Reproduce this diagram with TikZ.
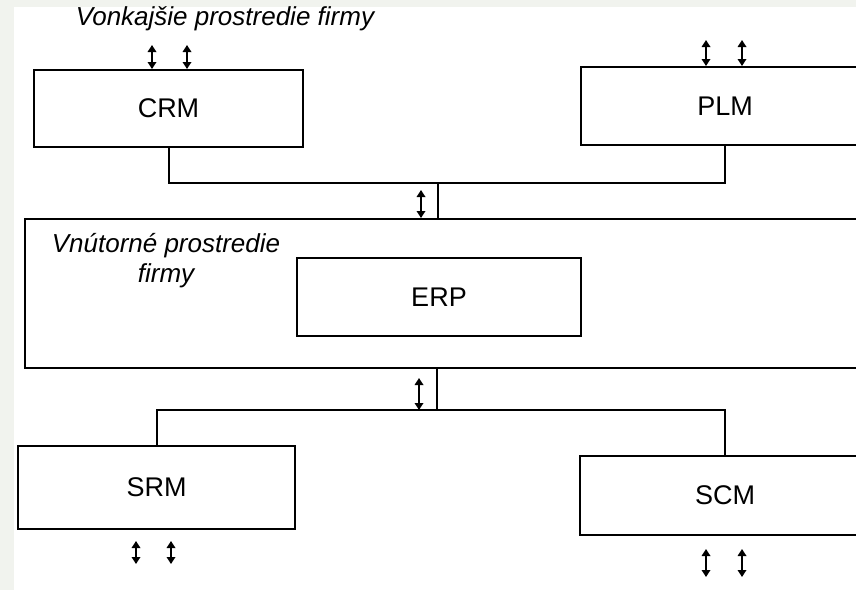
\documentclass[tikz,border=0pt]{standalone}
\usepackage{fontspec}
\setmainfont{Liberation Sans}
\usetikzlibrary{arrows.meta}
\definecolor{scanstrip}{HTML}{F1F3EE}
\begin{document}
\begin{tikzpicture}[x=1pt,y=-1pt,
  box/.style={draw, line width=2pt, inner sep=0pt, font=\fontsize{27}{30}\selectfont},
  bus/.style={line width=2pt},
  dbl/.style={line width=1.7pt, {Triangle[length=7pt,width=8.5pt]}-{Triangle[length=7pt,width=8.5pt]}},
  lab/.style={font=\fontsize{26}{30}\selectfont\itshape, inner sep=0pt}]
\useasboundingbox (0,0) rectangle (856,590);
\fill[scanstrip] (0,0) rectangle (14,590);
\fill[scanstrip] (14,0) rectangle (856,7);

\node[lab] (title) at (225,19) {Vonkajšie prostredie firmy};

\node[box, minimum width=269pt, minimum height=77pt] (CRM) at (168.5,108.5) {CRM};
\node[box, minimum width=288pt, minimum height=78pt] (PLM) at (725,106) {PLM};
\node[box, minimum width=855pt, minimum height=149pt] (outer) at (452.5,293.5) {};
\node[lab, align=center] (inlab) at (166,261) {Vnútorné prostredie\\firmy};
\node[box, minimum width=284pt, minimum height=78pt] (ERP) at (439,297) {ERP};
\node[box, minimum width=277pt, minimum height=83pt] (SRM) at (156.5,487.5) {SRM};
\node[box, minimum width=290pt, minimum height=79pt] (SCM) at (725,495.5) {SCM};

% upper bus
\coordinate (b1) at (438,183);
\draw[bus] (CRM.south) |- (b1) -| (PLM.south);
\draw[bus] (b1) -- (b1 |- outer.north);
\coordinate (a1) at (421,190);
\draw[dbl] (a1) -- (a1 |- outer.north);

% lower bus
\coordinate (b2) at (437,410);
\draw[bus] (b2 |- outer.south) -- (b2);
\draw[bus] (SRM.north) |- (b2) -| (SCM.north);
\coordinate (a2) at (419,378);
\draw[dbl] (a2) -- (a2 |- b2);

% external arrows
\coordinate (c1) at (152,45);
\coordinate (c2) at (187,45);
\draw[dbl] (c1) -- (c1 |- CRM.north);
\draw[dbl] (c2) -- (c2 |- CRM.north);
\coordinate (p1) at (706,40);
\coordinate (p2) at (742,40);
\draw[dbl] (p1) -- (p1 |- PLM.north);
\draw[dbl] (p2) -- (p2 |- PLM.north);
\coordinate (s1t) at (136,541);
\coordinate (s1b) at (136,564);
\coordinate (s2t) at (171,541);
\coordinate (s2b) at (171,564);
\draw[dbl] (s1t) -- (s1b);
\draw[dbl] (s2t) -- (s2b);
\coordinate (m1t) at (706,549);
\coordinate (m1b) at (706,577);
\coordinate (m2t) at (742,549);
\coordinate (m2b) at (742,577);
\draw[dbl] (m1t) -- (m1b);
\draw[dbl] (m2t) -- (m2b);
\end{tikzpicture}
\end{document}
